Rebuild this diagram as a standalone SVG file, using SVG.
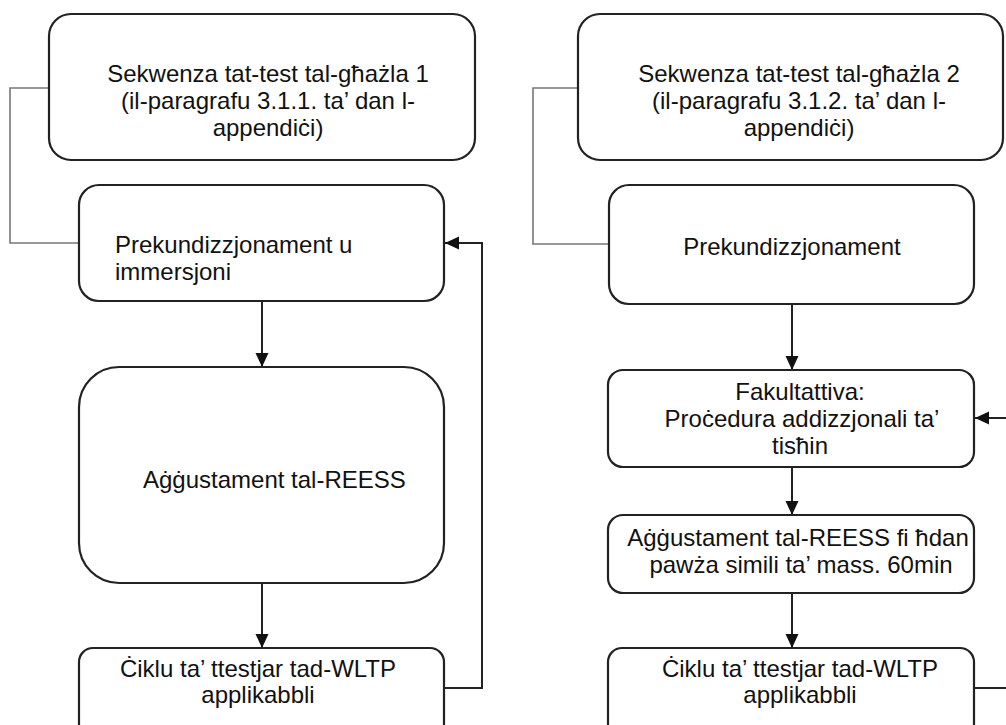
<svg xmlns="http://www.w3.org/2000/svg" width="1006" height="725" viewBox="0 0 1006 725">
  <style>
    .box { fill: #ffffff; stroke: #222222; stroke-width: 2.2; }
    .lbl { font-family: "Liberation Sans", Arial, sans-serif; font-size: 24px; fill: #111111; }
    .mid { text-anchor: middle; }
    .flow { fill: none; stroke: #222222; stroke-width: 2; }
    .link { fill: none; stroke: #777777; stroke-width: 1.6; }
  </style>
  <defs>
    <marker id="head" viewBox="0 0 14 14" refX="14" refY="7" markerWidth="14" markerHeight="14" markerUnits="userSpaceOnUse" orient="auto">
      <path d="M0,0.5 L14,7 L0,13.5 Z" fill="#111111"/>
    </marker>
  </defs>
  <rect width="1006" height="725" fill="#ffffff"/>

  <!-- connectors -->
  <g id="connectors">
    <!-- option 1 -->
    <polyline class="link" points="49,88 10,88 10,243 79,243"/>
    <line class="flow" x1="262" y1="301" x2="262" y2="367" marker-end="url(#head)"/>
    <line class="flow" x1="262" y1="583" x2="262" y2="648" marker-end="url(#head)"/>
    <polyline class="flow" points="444,688 482,688 482,243 445,243" marker-end="url(#head)"/>
    <!-- option 2 -->
    <polyline class="link" points="578,88 533,88 533,244 609,244"/>
    <line class="flow" x1="792" y1="304" x2="792" y2="370" marker-end="url(#head)"/>
    <line class="flow" x1="792" y1="467" x2="792" y2="515" marker-end="url(#head)"/>
    <line class="flow" x1="792" y1="593" x2="792" y2="648" marker-end="url(#head)"/>
    <line class="flow" x1="974" y1="688" x2="1008" y2="688"/>
    <line class="flow" x1="1008" y1="418" x2="975" y2="418" marker-end="url(#head)"/>
  </g>

  <!-- option 1 column -->
  <g id="seq1">
    <rect class="box" x="49" y="14" width="426" height="146" rx="22"/>
    <text class="lbl mid" x="268" y="82">Sekwenza tat-test tal-għażla 1</text>
    <text class="lbl mid" x="268" y="109">(il-paragrafu 3.1.1. ta’ dan l-</text>
    <text class="lbl mid" x="268" y="136">appendiċi)</text>
  </g>
  <g id="precond1">
    <rect class="box" x="79" y="185" width="365" height="116" rx="20"/>
    <text class="lbl" x="115" y="253">Prekundizzjonament u</text>
    <text class="lbl" x="115" y="280">immersjoni</text>
  </g>
  <g id="adjust1">
    <rect class="box" x="79" y="367" width="365" height="216" rx="40"/>
    <text class="lbl" x="143" y="488">Aġġustament tal-REESS</text>
  </g>
  <g id="cycle1">
    <rect class="box" x="79" y="648" width="365" height="90" rx="14"/>
    <text class="lbl mid" x="258" y="677">Ċiklu ta’ ttestjar tad-WLTP</text>
    <text class="lbl mid" x="258" y="703">applikabbli</text>
  </g>

  <!-- option 2 column -->
  <g id="seq2">
    <rect class="box" x="578" y="14" width="425" height="146" rx="22"/>
    <text class="lbl mid" x="799" y="82">Sekwenza tat-test tal-għażla 2</text>
    <text class="lbl mid" x="799" y="109">(il-paragrafu 3.1.2. ta’ dan l-</text>
    <text class="lbl mid" x="799" y="136">appendiċi)</text>
  </g>
  <g id="precond2">
    <rect class="box" x="609" y="185" width="365" height="119" rx="20"/>
    <text class="lbl mid" x="792" y="255">Prekundizzjonament</text>
  </g>
  <g id="optional2">
    <rect class="box" x="608" y="370" width="366" height="97" rx="15"/>
    <text class="lbl mid" x="800" y="400">Fakultattiva:</text>
    <text class="lbl mid" x="802" y="427">Proċedura addizzjonali ta’</text>
    <text class="lbl mid" x="800" y="454">tisħin</text>
  </g>
  <g id="adjust2">
    <rect class="box" x="608" y="515" width="366" height="78" rx="15"/>
    <text class="lbl mid" x="798" y="546">Aġġustament tal-REESS fi ħdan</text>
    <text class="lbl mid" x="801" y="573">pawża simili ta’ mass. 60min</text>
  </g>
  <g id="cycle2">
    <rect class="box" x="608" y="648" width="366" height="90" rx="14"/>
    <text class="lbl mid" x="800" y="677">Ċiklu ta’ ttestjar tad-WLTP</text>
    <text class="lbl mid" x="800" y="703">applikabbli</text>
  </g>
</svg>
